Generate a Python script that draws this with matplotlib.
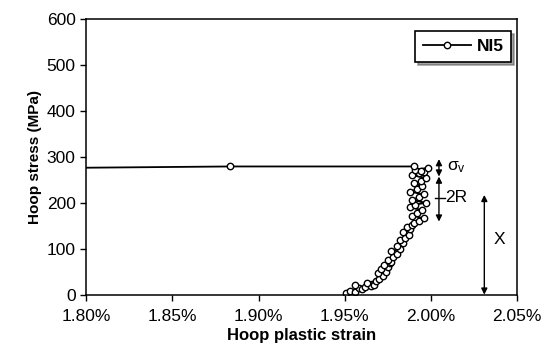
import numpy as np
import matplotlib
matplotlib.use('Agg')
import matplotlib.pyplot as plt
from matplotlib.ticker import FuncFormatter

plt.rcParams['font.family'] = ['Liberation Sans', 'DejaVu Sans']

# Hoop plastic strain (%) y hoop stress (MPa) del ensayo NI5
strain = [1.951, 1.953, 1.956, 1.958, 1.956, 1.960, 1.962, 1.965, 1.967, 1.963,
          1.968, 1.970, 1.972, 1.969, 1.974, 1.971, 1.975, 1.973, 1.976,
          1.977, 1.975, 1.978, 1.980, 1.977, 1.982, 1.980, 1.984, 1.982, 1.985,
          1.987, 1.984, 1.988, 1.986, 1.989,
          1.990, 1.993, 1.996, 1.989, 1.992, 1.995, 1.988, 1.991, 1.997, 1.989,
          1.993, 1.996, 1.988, 1.992, 1.995, 1.990, 1.994, 1.997, 1.989, 1.993,
          1.996, 1.991, 1.998, 1.994, 1.990,
          1.8835, 1.70]
stress = [4, 8, 6, 14, 20, 12, 16, 18, 22, 26,
          30, 34, 40, 46, 50, 56, 60, 64, 68,
          70, 76, 82, 88, 94, 100, 106, 112, 118, 124,
          130, 136, 142, 148, 152,
          155, 160, 166, 172, 178, 184, 190, 196, 200, 206,
          212, 218, 224, 230, 236, 242, 248, 254, 260, 264,
          268, 272, 276, 270, 279,
          279, 273]

fig = plt.figure(figsize=(5.55, 3.52), dpi=100)
ax = fig.add_axes([0.155, 0.163, 0.777, 0.783])

ax.plot(strain, stress, color='black', lw=1.3, marker='o', ms=4.6,
        mfc='white', mec='black', mew=1.0, label='NI5')

ax.set_xlim(1.80, 2.05)
ax.set_ylim(0, 600)
ax.set_xticks([1.80, 1.85, 1.90, 1.95, 2.00, 2.05])
ax.set_yticks([0, 100, 200, 300, 400, 500, 600])
ax.xaxis.set_major_formatter(FuncFormatter(lambda v, p: '%.2f%%' % v))
ax.tick_params(direction='out', length=4, width=1, labelsize=12.5, colors='black')
ax.tick_params(axis='x', pad=6)
for s in ax.spines.values():
    s.set_linewidth(1.1)

ax.set_xlabel('Hoop plastic strain', fontsize=12, fontweight='bold', labelpad=3)
ax.set_ylabel('Hoop stress (MPa)', fontsize=11, fontweight='bold', labelpad=3)

# flechas de sigma_v, 2R y X
arr = dict(arrowstyle='<|-|>', color='black', lw=1.0, mutation_scale=9,
           shrinkA=0, shrinkB=0)
ax.annotate('', xy=(2.0046, 295), xytext=(2.0046, 257), arrowprops=arr)
ax.annotate('', xy=(2.0046, 257), xytext=(2.0046, 159), arrowprops=arr)
ax.annotate('', xy=(2.0309, 217), xytext=(2.0309, 0), arrowprops=arr)
ax.plot([2.0025, 2.0080], [211, 211], color='black', lw=1.0)

ax.text(2.0092, 278, r'$\mathregular{\sigma_v}$', fontsize=12.5, va='center', ha='left')
ax.text(2.0082, 211, '2R', fontsize=12.5, va='center', ha='left')
ax.text(2.0365, 120, 'X', fontsize=12.5, va='center', ha='left')

leg = ax.legend(loc='upper right', bbox_to_anchor=(0.998, 0.975), shadow=True,
                fancybox=False, framealpha=1, edgecolor='black',
                prop={'weight': 'bold', 'size': 12.5}, handlelength=2.8,
                borderpad=0.45, handletextpad=0.3, borderaxespad=0.3)
leg.get_frame().set_linewidth(1.2)

fig.savefig('out.png', dpi=100)
